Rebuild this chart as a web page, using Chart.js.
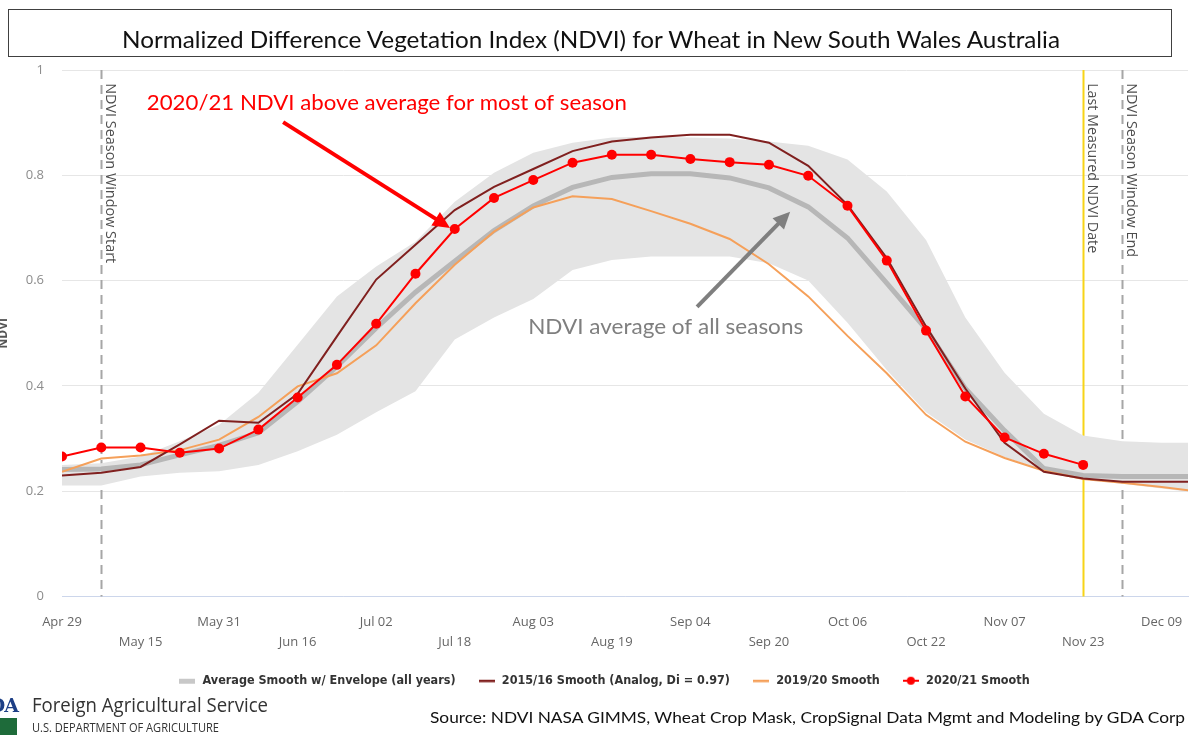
<!DOCTYPE html>
<html>
<head>
<meta charset="utf-8">
<script src="https://cdn.jsdelivr.net/npm/chart.js@4.4.1/dist/chart.umd.min.js"></script>
<style>
  html, body { margin: 0; padding: 0; background: #fff; }
  body { width: 1193px; height: 741px; position: relative; overflow: hidden; }
  #wrap { position: absolute; left: -8px; top: 0; width: 1201px; height: 741px; }
  #titleBox { position: absolute; left: 8px; top: 9px; width: 1164px; height: 48px; box-sizing: border-box; border: 1.5px solid #404040; }
  .fit { position: absolute; white-space: nowrap; line-height: 1; transform-origin: 0 50%; z-index: 2; }
  #title { left: 122px; top: 25px; font: 23px Lato, sans-serif; color: #111; }
  #fas { left: 32px; top: 691px; font: 20px 'Open Sans', sans-serif; color: #333; }
  #usda { left: 32px; top: 719px; font: 12px 'Open Sans', sans-serif; color: #333; }
  #source { left: 430px; top: 707px; font: 16px Lato, sans-serif; color: #111; }
  #logo { position: absolute; left: -50px; width: 68px; top: 694px; text-align: right; font: bold 19px 'DejaVu Serif', serif; color: #1d3f86; letter-spacing: -1px; }
  #logoGreen { position: absolute; left: 0; top: 718px; width: 17px; height: 17px; background: #1e6b3a; }
</style>
</head>
<body>
<div id="titleBox"></div>
<div class="fit" id="title" data-w="938">Normalized Difference Vegetation Index (NDVI) for Wheat in New South Wales Australia</div>
<div id="wrap"><canvas id="chart" width="1201" height="741"></canvas></div>
<div id="logo">USDA</div>
<div id="logoGreen"></div>
<div class="fit" id="fas" data-w="236">Foreign Agricultural Service</div>
<div class="fit" id="usda" data-w="187">U.S. DEPARTMENT OF AGRICULTURE</div>
<div class="fit" id="source" data-w="755">Source: NDVI NASA GIMMS, Wheat Crop Mask, CropSignal Data Mgmt and Modeling by GDA Corp</div>
<script>
// 8-day composite periods
const periods = ['Apr 29','May 07','May 15','May 23','May 31','Jun 08','Jun 16','Jun 24','Jul 02','Jul 10',
  'Jul 18','Jul 26','Aug 03','Aug 11','Aug 19','Aug 27','Sep 04','Sep 12','Sep 20','Sep 28',
  'Oct 06','Oct 14','Oct 22','Oct 30','Nov 07','Nov 15','Nov 23','Dec 01','Dec 09','Dec 17'];

const avgAll = [0.241,0.242,0.250,0.269,0.287,0.311,0.370,0.437,0.510,0.578,
  0.637,0.695,0.742,0.777,0.796,0.803,0.803,0.795,0.776,0.740,
  0.681,0.595,0.508,0.395,0.315,0.243,0.230,0.228,0.228,0.228];
const envUpper = [0.250,0.253,0.266,0.295,0.326,0.387,0.478,0.570,0.627,0.674,
  0.750,0.805,0.843,0.862,0.872,0.873,0.872,0.870,0.864,0.856,
  0.830,0.769,0.677,0.530,0.425,0.347,0.306,0.295,0.292,0.292];
const envLower = [0.211,0.211,0.228,0.235,0.238,0.250,0.276,0.307,0.350,0.390,
  0.488,0.530,0.565,0.620,0.639,0.646,0.646,0.646,0.633,0.600,
  0.520,0.430,0.350,0.298,0.265,0.240,0.222,0.214,0.205,0.196];
const analog1516 = [0.230,0.235,0.246,0.289,0.334,0.330,0.385,0.494,0.602,0.668,
  0.734,0.778,0.812,0.846,0.864,0.872,0.877,0.877,0.862,0.818,
  0.744,0.643,0.513,0.395,0.292,0.237,0.224,0.218,0.218,0.218];
const season1920 = [0.237,0.262,0.268,0.278,0.298,0.341,0.399,0.424,0.477,0.557,
  0.630,0.693,0.739,0.760,0.755,0.732,0.708,0.679,0.631,0.570,
  0.495,0.424,0.345,0.294,0.263,0.239,0.223,0.216,0.208,0.199];
const season2021 = [0.266,0.283,0.283,0.273,0.281,0.317,0.378,0.440,0.518,0.613,
  0.698,0.757,0.791,0.824,0.839,0.839,0.831,0.825,0.820,0.799,
  0.742,0.638,0.505,0.380,0.302,0.271,0.250];

const seriesNames = ['Average Smooth w/ Envelope (all years)', '2015/16 Smooth (Analog, Di = 0.97)', '2019/20 Smooth', '2020/21 Smooth'];
const yTicks = [0, 0.2, 0.4, 0.6, 0.8, 1];
const seasonStart = 'May 07';
const seasonEnd = 'Dec 01';
const lastMeasured = 'Nov 23';

const toPts = vals => vals.map((v, i) => ({x: i, y: v}));

function swatch(draw) {
  const c = document.createElement('canvas');
  c.width = 16; c.height = 12;
  draw(c.getContext('2d'));
  return c;
}
const swatches = [
  swatch(g => { g.fillStyle = '#c8c8c8'; g.fillRect(0, 4, 16, 5); }),
  swatch(g => { g.fillStyle = '#80201f'; g.fillRect(0, 5, 16, 2.5); }),
  swatch(g => { g.fillStyle = '#f5a05a'; g.fillRect(0, 5, 16, 2.5); }),
  swatch(g => { g.fillStyle = '#ff0000'; g.fillRect(0, 5, 16, 2); g.beginPath(); g.arc(8, 6, 4, 0, Math.PI * 2); g.fill(); })
];

const notes = {
  redText: {x: 2.16, y: 0.937, w: 480, text: '2020/21 NDVI above average for most of season', color: '#ff0000'},
  redArrow: {x1: 5.63, y1: 0.901, x2: 9.88, y2: 0.700, color: '#ff0000'},
  grayText: {x: 11.87, y: 0.512, w: 275, text: 'NDVI average of all seasons', color: '#7f7f7f'},
  grayArrow: {x1: 16.17, y1: 0.550, x2: 18.54, y2: 0.731, color: '#7f7f7f'},
  vlabels: [
    {at: seasonStart, text: 'NDVI Season Window Start', w: 180, dash: true},
    {at: lastMeasured, text: 'Last Measured NDVI Date', w: 170, dash: false},
    {at: seasonEnd, text: 'NDVI Season Window End', w: 174, dash: true}
  ]
};

function fitText(ctx, text, x, y, w) {
  const m = ctx.measureText(text).width;
  ctx.save();
  ctx.translate(x, y);
  ctx.scale(w / m, 1);
  ctx.fillText(text, 0, 0);
  ctx.restore();
}

function arrow(ctx, x1, y1, x2, y2, color) {
  const a = Math.atan2(y2 - y1, x2 - x1), head = 17, half = 8;
  const bx = x2 - head * Math.cos(a), by = y2 - head * Math.sin(a);
  ctx.strokeStyle = color; ctx.fillStyle = color; ctx.lineWidth = 4;
  ctx.beginPath(); ctx.moveTo(x1, y1); ctx.lineTo(bx + 2 * Math.cos(a), by + 2 * Math.sin(a)); ctx.stroke();
  ctx.beginPath();
  ctx.moveTo(x2, y2);
  ctx.lineTo(bx + half * Math.sin(a), by - half * Math.cos(a));
  ctx.lineTo(bx - half * Math.sin(a), by + half * Math.cos(a));
  ctx.closePath(); ctx.fill();
}

const overlay = {
  id: 'overlay',
  afterLayout(chart) {
    // legend sits a little right of the page centre in the original
    chart.legend.left += 14;
    chart.legend.right += 14;
  },
  beforeDatasetsDraw(chart) {
    const {ctx, chartArea: area, scales: {x, y}} = chart;
    ctx.save();
    notes.vlabels.forEach(v => {
      const px = Math.round(x.getPixelForValue(periods.indexOf(v.at))) + 0.5;
      ctx.beginPath();
      ctx.lineWidth = 2;
      if (v.dash) { ctx.strokeStyle = '#a6a6a6'; ctx.setLineDash([9, 6]); }
      else { ctx.strokeStyle = '#f7d417'; ctx.setLineDash([]); }
      ctx.moveTo(px, area.top); ctx.lineTo(px, area.bottom); ctx.stroke();
      ctx.setLineDash([]);
      ctx.save();
      ctx.translate(px + 8.5, y.getPixelForValue(0.975));
      ctx.rotate(Math.PI / 2);
      ctx.font = '14px "Open Sans", sans-serif';
      ctx.fillStyle = '#4d4d4d';
      ctx.textBaseline = 'middle';
      fitText(ctx, v.text, 0, 0, v.w);
      ctx.restore();
    });
    ctx.restore();
  },
  afterDatasetsDraw(chart) {
    const {ctx, scales: {x, y}} = chart;
    ctx.save();
    ctx.textBaseline = 'middle';
    ctx.font = '22px Lato, sans-serif';
    [notes.redText, notes.grayText].forEach(t => {
      ctx.fillStyle = t.color;
      fitText(ctx, t.text, x.getPixelForValue(t.x), y.getPixelForValue(t.y), t.w);
    });
    [notes.redArrow, notes.grayArrow].forEach(r => {
      arrow(ctx, x.getPixelForValue(r.x1), y.getPixelForValue(r.y1), x.getPixelForValue(r.x2), y.getPixelForValue(r.y2), r.color);
    });
    ctx.restore();
  }
};

const lineBase = {tension: 0, pointRadius: 0, fill: false};

new Chart(document.getElementById('chart'), {
  type: 'line',
  data: {
    datasets: [
      {...lineBase, label: 'lower', data: toPts(envLower), borderWidth: 0, borderColor: 'rgba(0,0,0,0)', order: 5},
      {...lineBase, label: 'upper', data: toPts(envUpper), borderWidth: 0, borderColor: 'rgba(0,0,0,0)', backgroundColor: '#e4e4e4', fill: 0, order: 4},
      {...lineBase, label: seriesNames[0], data: toPts(avgAll), borderColor: '#b7b7b7', borderWidth: 5, order: 3, swatch: 0},
      {...lineBase, label: seriesNames[1], data: toPts(analog1516), borderColor: '#80201f', borderWidth: 2, order: 1, swatch: 1},
      {...lineBase, label: seriesNames[2], data: toPts(season1920), borderColor: '#f5a05a', borderWidth: 2, order: 2, swatch: 2},
      {...lineBase, label: seriesNames[3], data: toPts(season2021), borderColor: '#ff0000', backgroundColor: '#ff0000', borderWidth: 2, pointRadius: 5, pointBorderWidth: 0, order: 0, swatch: 3}
    ]
  },
  options: {
    responsive: false,
    devicePixelRatio: 1,
    animation: false,
    layout: {padding: {top: 70, right: 5, left: 0, bottom: 44}},
    plugins: {
      tooltip: {enabled: false},
      legend: {
        position: 'bottom',
        labels: {
          usePointStyle: true,
          pointStyleWidth: 18,
          padding: 22,
          color: '#333',
          font: {family: '"DejaVu Sans Condensed", "DejaVu Sans", sans-serif', size: 12.5, weight: 'bold'},
          generateLabels: chart => chart.data.datasets
            .map((ds, i) => ({ds, i}))
            .filter(o => o.ds.swatch !== undefined)
            .sort((a, b) => a.ds.swatch - b.ds.swatch)
            .map(o => ({text: o.ds.label, pointStyle: swatches[o.ds.swatch], fillStyle: 'rgba(0,0,0,0)', strokeStyle: 'rgba(0,0,0,0)', lineWidth: 0, datasetIndex: o.i, hidden: false, fontColor: '#333'}))
        }
      }
    },
    scales: {
      x: {
        type: 'linear',
        min: 0,
        max: 28.67,
        afterFit: s => { s.height = 56; },
        grid: {display: false},
        border: {color: '#ccd6eb', width: 1},
        ticks: {
          stepSize: 2,
          includeBounds: false,
          autoSkip: false,
          maxRotation: 0,
          padding: 7,
          color: '#666',
          font: {family: '"Open Sans", sans-serif', size: 13, lineHeight: 1.6},
          callback: v => {
            const label = periods[v];
            if (label === undefined) return '';
            return (v / 2) % 2 ? ['', label] : label;
          }
        }
      },
      y: {
        min: 0,
        max: 1,
        afterFit: s => { s.width = 70; },
        afterBuildTicks: s => { s.ticks = yTicks.map(v => ({value: v})); },
        border: {display: false},
        grid: {color: '#e6e6e6', drawTicks: false},
        title: {display: true, text: 'NDVI', color: '#555', font: {family: '"Open Sans", sans-serif', size: 12, weight: 'bold'}, padding: {top: 4, bottom: 0}},
        ticks: {
          padding: 18,
          color: '#8c8c8c',
          font: {family: '"Open Sans", sans-serif', size: 13},
          callback: v => String(+v.toFixed(1))
        }
      }
    }
  },
  plugins: [overlay]
});

function fitAll() {
  document.querySelectorAll('.fit').forEach(el => {
    el.style.transform = 'none';
    const w = el.getBoundingClientRect().width;
    el.style.transform = 'scaleX(' + (+el.dataset.w / w) + ')';
  });
}
fitAll();
if (document.fonts) document.fonts.ready.then(fitAll);
</script>
</body>
</html>
